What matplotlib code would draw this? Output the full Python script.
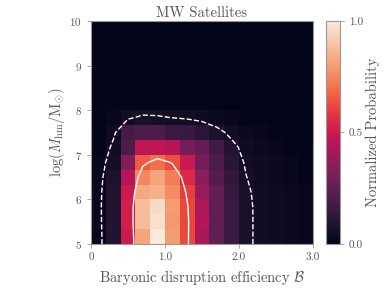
#!/usr/bin/env python
"""
MW satellites: normalized probability of baryonic disruption efficiency
vs. half-mode mass.
"""

import numpy as np
import matplotlib

matplotlib.use("Agg")
import matplotlib.pyplot as plt
import seaborn as sns

plt.rcParams["font.family"] = "serif"
plt.rcParams["font.serif"] = ["cmr10", "DejaVu Serif"]
plt.rcParams["mathtext.fontset"] = "cm"
plt.rcParams["axes.formatter.use_mathtext"] = True

TEXT = "#555555"
EDGE = "#999999"

# bin extents (B from 0 to 3, log M_hm from 5 to 10), 15 x 15 bins
B_RANGE = [0.0, 3.0]
M_RANGE = [5.0, 10.0]

# normalized probability, rows from log M_hm = 5 upwards
PROB = [
    [0.02, 0.09, 0.50, 0.82, 1.00, 0.80, 0.62, 0.42, 0.25, 0.16, 0.07, 0.05, 0.04, 0.03, 0.02],
    [0.03, 0.09, 0.52, 0.88, 0.97, 0.79, 0.62, 0.45, 0.25, 0.16, 0.07, 0.05, 0.04, 0.03, 0.02],
    [0.03, 0.09, 0.52, 0.88, 0.96, 0.80, 0.62, 0.43, 0.25, 0.16, 0.07, 0.05, 0.04, 0.03, 0.02],
    [0.03, 0.09, 0.50, 0.83, 0.85, 0.76, 0.60, 0.38, 0.25, 0.15, 0.07, 0.05, 0.04, 0.03, 0.02],
    [0.02, 0.08, 0.45, 0.75, 0.82, 0.73, 0.55, 0.35, 0.22, 0.13, 0.06, 0.04, 0.03, 0.02, 0.01],
    [0.02, 0.06, 0.33, 0.66, 0.70, 0.63, 0.50, 0.30, 0.20, 0.11, 0.05, 0.04, 0.03, 0.02, 0.01],
    [0.01, 0.05, 0.20, 0.47, 0.47, 0.45, 0.30, 0.26, 0.17, 0.09, 0.04, 0.03, 0.02, 0.01, 0.01],
    [0.01, 0.04, 0.18, 0.20, 0.20, 0.16, 0.15, 0.12, 0.08, 0.05, 0.03, 0.02, 0.01, 0.01, 0.00],
    [0.00, 0.02, 0.05, 0.07, 0.06, 0.05, 0.05, 0.04, 0.03, 0.02, 0.01, 0.01, 0.00, 0.00, 0.00],
    [0.00, 0.01, 0.01, 0.01, 0.01, 0.01, 0.01, 0.01, 0.00, 0.00, 0.00, 0.00, 0.00, 0.00, 0.00],
    [0.00] * 15,
    [0.00] * 15,
    [0.00] * 15,
    [0.00] * 15,
    [0.00] * 15,
]

# contour levels on the smoothed map (outer dashed, inner solid)
LEVELS = [0.072, 0.60]
STYLES = ["--", "-"]

X_TICKS = [0.0, 1.0, 2.0, 3.0]
X_TICK_LABELS = ["0", "1.0", "2.0", "3.0"]
Y_TICKS = [5, 6, 7, 8, 9, 10]
CBAR_TICKS = [0.0, 0.5, 1.0]


def smooth(arr, k):
    """Separable smoothing with kernel k, edges padded."""
    n = len(k) // 2
    a = np.pad(arr, n, mode="edge")
    a = np.apply_along_axis(lambda r: np.convolve(r, k, mode="valid"), 1, a)
    a = np.apply_along_axis(lambda c: np.convolve(c, k, mode="valid"), 0, a)
    return a


def main():
    prob = np.array(PROB)
    ny, nx = prob.shape
    cmap = sns.color_palette("rocket", as_cmap=True)

    fig = plt.figure(figsize=(3.84, 2.88), dpi=100)
    ax = fig.add_axes([0.237, 0.153, 0.578, 0.774])
    im = ax.imshow(
        prob,
        origin="lower",
        extent=B_RANGE + M_RANGE,
        aspect="auto",
        cmap=cmap,
        vmin=0,
        vmax=1,
        interpolation="nearest",
    )

    # contours of a lightly smoothed map, on bin centres plus one extra bin
    dx = (B_RANGE[1] - B_RANGE[0]) / nx
    dy = (M_RANGE[1] - M_RANGE[0]) / ny
    xc = B_RANGE[0] + dx * (np.arange(-1, nx + 1) + 0.5)
    yc = M_RANGE[0] + dy * (np.arange(-1, ny + 1) + 0.5)
    field = smooth(np.pad(prob, 1, mode="edge"), np.array([1, 2, 1]) / 4.0)
    for lev, ls in zip(LEVELS, STYLES):
        ax.contour(xc, yc, field, levels=[lev], colors="white",
                   linestyles=ls, linewidths=1.0)

    ax.set_xlim(B_RANGE)
    ax.set_ylim(M_RANGE)
    ax.set_xticks(X_TICKS)
    ax.set_xticklabels(X_TICK_LABELS)
    ax.set_yticks(Y_TICKS)
    ax.tick_params(colors=EDGE, labelcolor=TEXT, labelsize=8, length=3, width=0.6)
    for sp in ax.spines.values():
        sp.set_color(EDGE)
        sp.set_linewidth(0.8)

    ax.set_title("MW Satellites", color=TEXT, fontsize=10.5, pad=3)
    ax.set_xlabel(r"Baryonic disruption efficiency $\mathcal{B}$", color=TEXT, fontsize=10.5)
    ax.set_ylabel(r"$\log(M_{\rm hm}/{\rm M}_{\odot})$", color=TEXT, fontsize=10.5, labelpad=2)

    cax = fig.add_axes([0.849, 0.153, 0.036, 0.774])
    cbar = fig.colorbar(im, cax=cax, ticks=CBAR_TICKS)
    cbar.ax.set_yticklabels(["0.0", "0.5", "1.0"])
    cbar.ax.tick_params(colors=EDGE, labelcolor=TEXT, labelsize=8, length=3, width=0.6)
    cbar.outline.set_edgecolor(EDGE)
    cbar.set_label("Normalized Probability", color=TEXT, fontsize=10.5, labelpad=2)

    fig.savefig("out.png", dpi=100)


if __name__ == "__main__":
    main()
